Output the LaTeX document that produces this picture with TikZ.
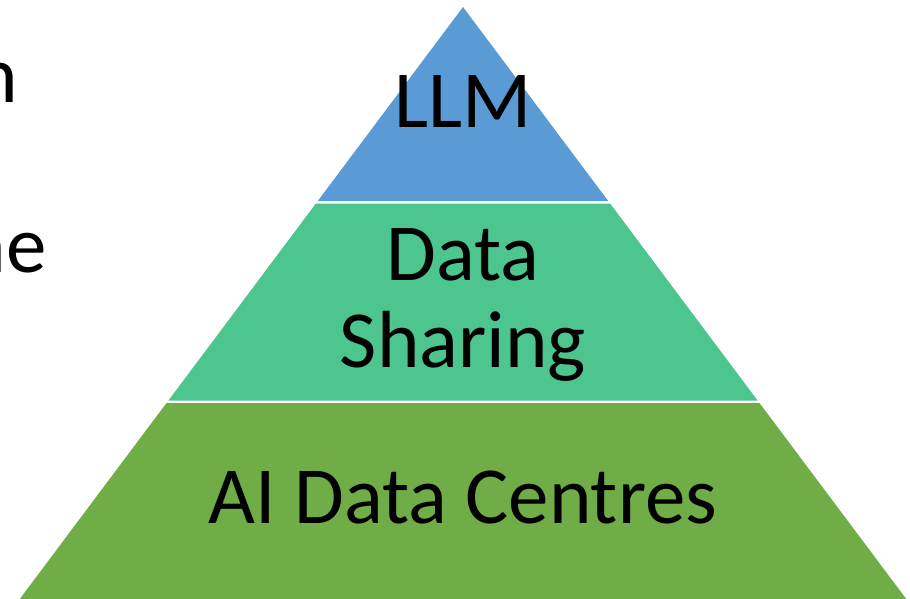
\documentclass[tikz,border=0pt]{standalone}
\usepackage{fontspec}
\setmainfont{Carlito}
\definecolor{topblue}{HTML}{5B9BD5}
\definecolor{midgreen}{HTML}{4DC58F}
\definecolor{botgreen}{HTML}{70AD47}
\tikzset{
  layer/.style={draw=none},
  label/.style={inner sep=0pt, text=black, font=\fontsize{81}{87}\selectfont},
}
\begin{document}
\begin{tikzpicture}[x=1pt,y=-1pt]
\useasboundingbox (0,0) rectangle (910,598);
\clip (0,0) rectangle (910,598);
% layers
\fill[layer, topblue] (463,7) -- (608.2,201) -- (317.8,201) -- cycle;
\fill[layer, midgreen] (315.9,203.5) -- (610.1,203.5) -- (757.6,400.5) -- (168.4,400.5) -- cycle;
\fill[layer, botgreen] (166.5,403) -- (759.5,403) -- (907,600) -- (19,600) -- cycle;
% labels
\node[label, anchor=base] (llm) at (463,127) {LLM};
\node[label, anchor=base, align=center] (ds) at (463,367) {Data\\Sharing};
\node[label, anchor=base] (aidc) at (463,523) {AI Data Centres};
% cut-off texts at left
\node[label, anchor=base east] (lefta) at (18,102) {n};
\node[label, anchor=base east] (leftb) at (47,272) {ne};
\end{tikzpicture}
\end{document}
